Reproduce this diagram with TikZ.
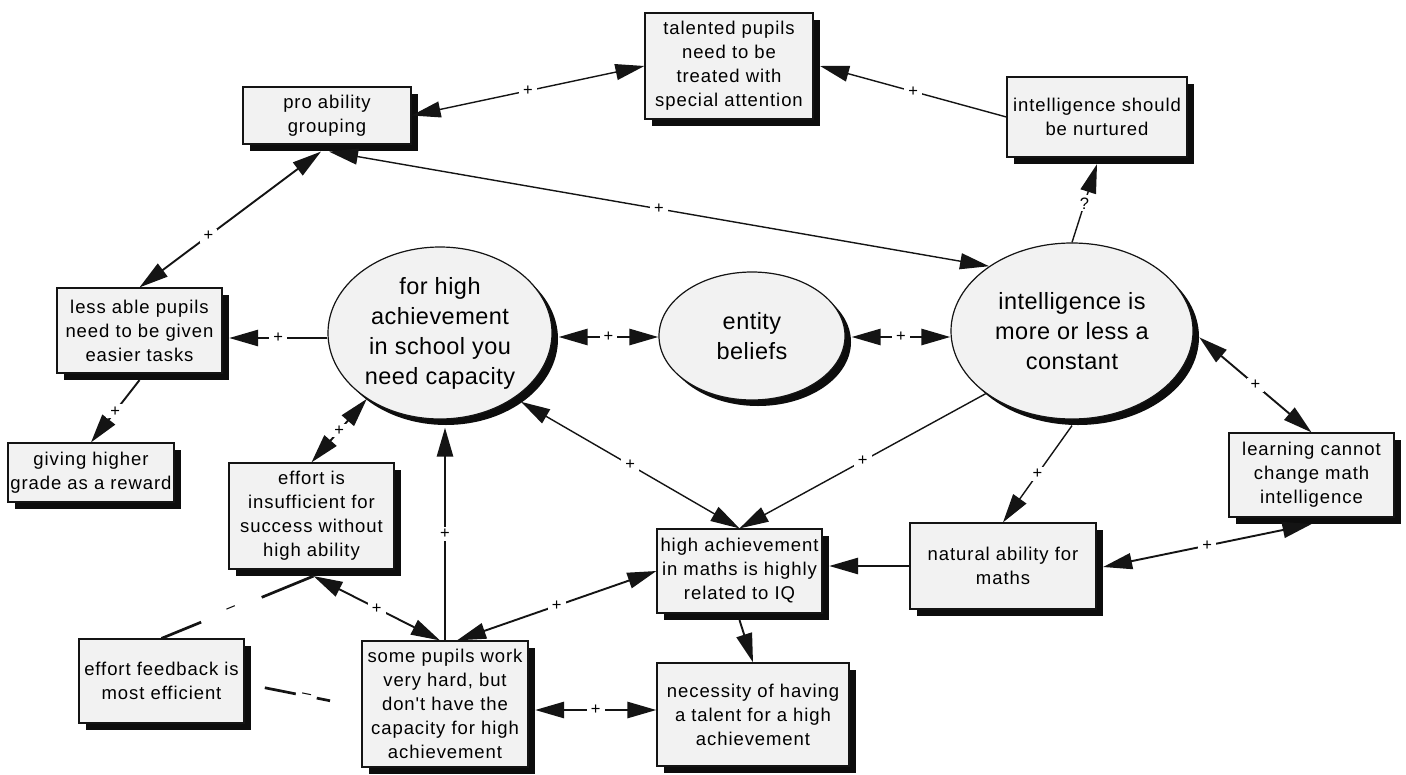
\documentclass[tikz,border=0pt]{standalone}
\usepackage{fontspec}
\setmainfont{Liberation Sans}
\newfontfamily\boxfont[LetterSpace=5]{Liberation Sans}
\newfontfamily\ovalfont[LetterSpace=2]{Liberation Sans}
\usetikzlibrary{shapes.geometric,shadows,arrows.meta,calc}

\definecolor{paper}{HTML}{F2F2F2}
\definecolor{ink}{HTML}{141414}
\definecolor{shade}{HTML}{0D0D0D}

\begin{document}
\begin{tikzpicture}[x=1pt,y=-1pt,
  >={Triangle[length=29pt,width=16pt]},
  concept/.style={rectangle,draw=ink,line width=1.2pt,fill=paper,align=center,
    inner xsep=1pt,inner ysep=0pt,font=\boxfont\fontsize{18.5}{24}\selectfont,
    drop shadow={shadow xshift=6.5pt,shadow yshift=-6.5pt,fill=shade,opacity=1}},
  belief/.style={ellipse,draw=ink,line width=1.2pt,fill=paper,align=center,
    inner sep=0pt,font=\ovalfont\fontsize{23.5}{30}\selectfont,
    drop shadow={shadow xshift=6pt,shadow yshift=-6pt,fill=shade,opacity=1}},
  thinlink/.style={draw=ink,line width=1.4pt},
  midlink/.style={draw=ink,line width=1.9pt},
  boldlink/.style={draw=ink,line width=2.7pt},
  sign/.style={fill=white,inner xsep=4pt,inner ysep=2pt,font=\fontsize{16.5}{16.5}\selectfont},
]
\fill[white] (0,0) rectangle (1406,774);
\useasboundingbox (0,0) rectangle (1406,774);

% ---- beliefs (ovals)
\node[belief,minimum width=224pt,minimum height=172pt] (cap) at (440,333)
  {for high\\achievement\\in school you\\need capacity};
\node[belief,minimum width=186pt,minimum height=128pt] (ent) at (752,336)
  {entity\\beliefs};
\node[belief,minimum width=242pt,minimum height=176pt] (con) at (1072,331)
  {intelligence is\\more or less a\\constant};

% ---- concepts (boxes)
\node[concept,minimum width=168pt,minimum height=57pt] (pag) at (327,115.5)
  {pro ability\\grouping};
\node[concept,minimum width=168pt,minimum height=106pt] (tal) at (729,66)
  {talented pupils\\need to be\\treated with\\special attention};
\node[concept,minimum width=180pt,minimum height=80pt] (nur) at (1097,117)
  {intelligence should\\be nurtured};
\node[concept,minimum width=165pt,minimum height=85pt] (les) at (139.5,330.5)
  {less able pupils\\need to be given\\easier tasks};
\node[concept,minimum width=166pt,minimum height=59pt] (giv) at (91,472.5)
  {giving higher\\grade as a reward};
\node[concept,minimum width=165pt,minimum height=106pt] (ins) at (311.5,516)
  {effort is\\insufficient for\\success without\\high ability};
\node[concept,minimum width=165pt,minimum height=84pt] (feed) at (161.5,681)
  {effort feedback is\\most efficient};
\node[concept,minimum width=166pt,minimum height=126pt] (some) at (445,704)
  {some pupils work\\very hard, but\\don't have the\\capacity for high\\achievement};
\node[concept,minimum width=165pt,minimum height=84pt] (iq) at (739.5,571)
  {high achievement\\in maths is highly\\related to IQ};
\node[concept,minimum width=192pt,minimum height=103pt] (nec) at (753,714.5)
  {necessity of having\\a talent for a high\\achievement};
\node[concept,minimum width=186pt,minimum height=86pt] (nat) at (1003,566)
  {natural ability for\\maths};
\node[concept,minimum width=165pt,minimum height=84pt] (learn) at (1311.5,475)
  {learning cannot\\change math\\intelligence};

% ---- upper links
\draw[thinlink,<->] (pag.east) -- node[sign]{+} (tal.west);
\draw[thinlink,->] (nur.west) -- node[sign]{+} ($(tal.east)+(6.5,0)$);
\draw[thinlink,<->] ($(pag.south)+(2,7)$) -- node[sign]{+} (con.142.6);
\draw[midlink,<->] ($(pag.south)+(-6,7)$) -- node[sign,pos=0.62]{+} (les.north);
\draw[thinlink,->] (con.north) -- node[sign]{?} ($(nur.south)+(0,6.5)$);

% ---- left side
\coordinate (capL) at ($(cap.west)+(0,5)$);
\draw[boldlink,->] (capL) -- node[sign]{+} ($(les.east |- capL)+(6.5,0)$);
\draw[midlink,->] ($(les.south)+(0,6.5)$) -- node[sign]{+} (giv.north);
\draw[midlink,<->] (ins.north) -- node[sign]{+} (cap.222);
\draw[boldlink,->] (some.north) -- node[sign]{+} ($(some.north |- cap.south)+(0,8)$);

% ---- central row
\coordinate (capR) at ($(cap.east)+(6,4)$);
\draw[boldlink,<->] (capR) -- node[sign]{+} (capR -| ent.west);
\coordinate (entR) at ($(ent.east)+(6,1)$);
\draw[boldlink,<->] (entR) -- node[sign]{+} (entR -| con.west);

% ---- towards the maths boxes
\draw[thinlink,<->] ($(cap.-40)+(5,5)$) -- node[sign]{+} (iq.north);
\draw[thinlink,->] (con.216) -- node[sign]{+} (iq.north);
\draw[thinlink,->] ($(con.south)+(0,6)$) -- node[sign]{+} (nat.north);
\draw[midlink,<->] ($(con.-3)+(6,0)$) -- node[sign]{+} (learn.north);
\draw[midlink,<->] ($(nat.east)+(6.5,1)$) -- node[sign]{+} ($(learn.south)+(0,6.5)$);
\draw[boldlink,->] (nat.west) -- ($(iq.east |- nat.west)+(6.5,0)$);
\draw[midlink,->] ($(iq.south)+(0,6.5)$) -- (nec.north);

% ---- bottom row
\coordinate (someR) at ($(some.east)+(6.5,6)$);
\draw[boldlink,<->] (someR) -- node[sign]{+} (someR -| nec.west);
\draw[midlink,<->] ($(some.north)+(12,0)$) -- node[sign]{+} (iq.west);
\draw[midlink,<->] ($(ins.south)+(2,6.5)$) -- node[sign]{+} ($(some.north)+(-5,0)$);
\draw[boldlink] (feed.north) -- node[sign,sloped,pos=0.46,inner xsep=28pt]{–} ($(ins.south)+(2,6.5)$);
\draw[boldlink,shorten <=14pt,shorten >=32pt] ($(feed.east)+(6.5,4)$) -- node[sign,sloped,inner xsep=6pt]{–} ($(some.west)+(0,3)$);
\end{tikzpicture}
\end{document}
